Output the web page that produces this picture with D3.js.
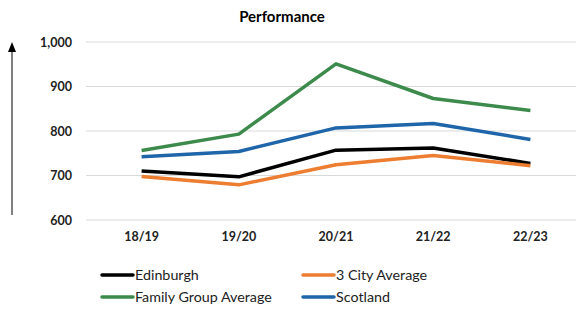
<!DOCTYPE html>
<html>
<head>
<meta charset="utf-8">
<script src="https://cdn.jsdelivr.net/npm/d3@7"></script>
<style>
  body { margin: 0; background: #fff; }
  svg { display: block; font-family: Lato, "Liberation Sans", sans-serif; }
</style>
</head>
<body>
<svg id="chart" width="576" height="318"></svg>
<script>
// data
var years = ['18/19', '19/20', '20/21', '21/22', '22/23'];
var edinburgh = [710, 697, 757, 762, 727];
var cityAverage = [698, 679, 724, 745, 722];
var familyGroup = [756, 793, 951, 873, 846];
var scotland = [742, 754, 807, 817, 781];
var yTicks = [600, 700, 800, 900, 1000];

var seriesList = [
    { name: 'Family Group Average', values: familyGroup, color: '#3d8b4c' },
    { name: 'Scotland', values: scotland, color: '#1f65a9' },
    { name: 'Edinburgh', values: edinburgh, color: '#000000' },
    { name: '3 City Average', values: cityAverage, color: '#ed7d31' }
];
var legendOrder = ['Edinburgh', '3 City Average', 'Family Group Average', 'Scotland'];

var svg = d3.select('#chart');

var x = d3.scaleBand().domain(years).range([93, 579]);
var y = d3.scaleLinear().domain([600, 1000]).range([220, 42]);

// title
svg.append('text')
    .attr('x', 282).attr('y', 22)
    .attr('text-anchor', 'middle')
    .attr('font-size', 15).attr('font-weight', 'bold')
    .text('Performance');

// gridlines
svg.append('g').selectAll('line')
    .data(yTicks).enter().append('line')
    .attr('x1', 86).attr('x2', 576)
    .attr('y1', (d) => y(d)).attr('y2', (d) => y(d))
    .attr('stroke', '#d9d9d9').attr('stroke-width', 1);

// y axis labels
var yAxis = svg.append('g')
    .attr('transform', 'translate(72,0)')
    .call(d3.axisLeft(y).tickValues(yTicks).tickSize(0).tickPadding(0).tickFormat(d3.format(',')));
yAxis.select('.domain').remove();
yAxis.selectAll('text').attr('font-size', 12.5).attr('font-weight', 'bold').attr('fill', '#222').attr('font-family', 'Lato, sans-serif');

// x axis labels
var xAxis = svg.append('g')
    .attr('transform', 'translate(0,232)')
    .call(d3.axisBottom(x).tickSize(0).tickPadding(0));
xAxis.select('.domain').remove();
xAxis.selectAll('text').attr('font-size', 12.5).attr('font-weight', 'bold').attr('fill', '#222').attr('font-family', 'Lato, sans-serif');

// arrow up the left side
svg.append('line')
    .attr('x1', 12).attr('x2', 12)
    .attr('y1', 215).attr('y2', 50)
    .attr('stroke', '#000').attr('stroke-width', 1);
svg.append('path')
    .attr('d', 'M12,42 L16,52 L8,52 Z')
    .attr('fill', '#000');

// lines
var line = d3.line()
    .x((d, i) => x(years[i]) + x.bandwidth() / 2)
    .y((d) => y(d));

svg.append('g').selectAll('path')
    .data(seriesList).enter().append('path')
    .attr('d', (s) => line(s.values))
    .attr('fill', 'none')
    .attr('stroke', (s) => s.color)
    .attr('stroke-width', 3.5)
    .attr('stroke-linejoin', 'round');

// legend
var legendPos = [[102, 280], [303, 280], [102, 302], [303, 302]];
var legend = svg.append('g').selectAll('g')
    .data(legendOrder).enter().append('g')
    .attr('transform', (d, i) => 'translate(' + legendPos[i][0] + ',' + legendPos[i][1] + ')');
legend.append('line')
    .attr('x1', 0).attr('x2', 31).attr('y1', -5).attr('y2', -5)
    .attr('stroke', (d) => seriesList.find((s) => s.name === d).color)
    .attr('stroke-width', 3.5).attr('stroke-linecap', 'round');
legend.append('text')
    .attr('x', 33).attr('y', 0)
    .attr('font-size', 14.3).attr('fill', '#222')
    .text((d) => d);
</script>
</body>
</html>
